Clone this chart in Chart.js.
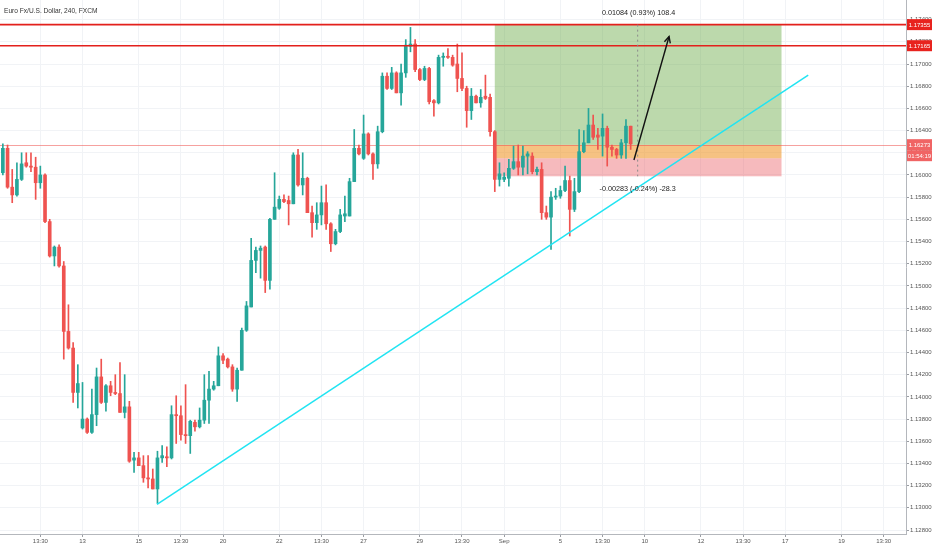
<!DOCTYPE html>
<html><head><meta charset="utf-8">
<script src="https://cdn.jsdelivr.net/npm/chart.js@4.4.0/dist/chart.umd.min.js"></script>
<style>html,body{margin:0;padding:0;background:#fff;overflow:hidden}#wrap{width:932px;height:550px;position:relative}</style>
</head><body><div id="wrap"><canvas id="c" width="932" height="550"></canvas></div>
<script>
// ---- data (4h EUR/USD candles, index 0 = Mon 13 Aug) ----
const firstIndex = -17;
const opens = [
1.1602,1.1624,1.1589,1.1582,1.1596,1.1611,1.1608,1.1607,1.1593,1.1600,1.1558,1.1527,1.1535,1.1518,1.1459,1.1444,1.1404,
1.1372,1.1380,1.1368,1.1384,1.1418,1.1395,1.1410,1.1404,1.1403,1.1386,
1.1391,1.1343,1.1345,1.1338,1.1327,1.1326,1.1317,1.1345,1.1346,1.1345,
1.1384,1.1383,1.1366,1.1365,1.1377,1.1373,1.1379,1.1397,1.1407,1.1410,
1.1437,1.1434,1.1427,1.1407,1.1424,1.1460,1.1481,1.1523,1.1532,1.1535,
1.1505,1.1560,1.1570,1.1578,1.1577,1.1574,1.1618,1.1591,1.1597,1.1566,
1.1557,1.1564,1.1575,1.1556,1.1538,1.1549,1.1563,1.1563,1.1594,1.1624,
1.1615,1.1637,1.1619,1.1610,1.1639,1.1689,1.1678,1.1692,1.1674,1.1692,
1.1716,1.1718,1.1695,1.1686,1.1696,1.1667,1.1665,1.1706,1.1707,1.1706,
1.1700,1.1687,1.1678,1.1658,1.1671,1.1665,1.1671,1.1670,1.1639,1.1596,
1.1596,1.1597,1.1606,1.1612,1.1607,1.1617,1.1617,1.1603,1.1605,1.1566,
1.1562,1.1580,1.1581,1.1586,1.1595,1.1569,1.1585,1.1621,1.1629,1.1645,
1.1636,1.1635,1.1642,1.1625,1.1623,1.1618,1.1629,1.1644];
const highs = [
1.1628,1.1627,1.1605,1.1611,1.1620,1.1620,1.1620,1.1616,1.1608,1.1601,1.1560,1.1536,1.1537,1.1522,1.1483,1.1449,1.1429,
1.1413,1.1381,1.1407,1.1426,1.1434,1.1411,1.1414,1.1420,1.1431,1.1420,
1.1396,1.1350,1.1350,1.1347,1.1347,1.1335,1.1351,1.1356,1.1355,1.1392,
1.1401,1.1392,1.1411,1.1379,1.1379,1.1390,1.1420,1.1423,1.1414,1.1445,
1.1439,1.1435,1.1429,1.1426,1.1462,1.1486,1.1543,1.1535,1.1536,1.1536,
1.1561,1.1602,1.1581,1.1582,1.1581,1.1620,1.1623,1.1620,1.1598,1.1572,
1.1575,1.1590,1.1591,1.1557,1.1551,1.1569,1.1581,1.1597,1.1641,1.1627,
1.1654,1.1638,1.1620,1.1644,1.1692,1.1692,1.1697,1.1693,1.1700,1.1722,
1.1733,1.1722,1.1696,1.1698,1.1697,1.1668,1.1708,1.1710,1.1714,1.1708,
1.1718,1.1710,1.1680,1.1678,1.1672,1.1677,1.1690,1.1673,1.1640,1.1611,
1.1602,1.1614,1.1626,1.1627,1.1626,1.1621,1.1620,1.1607,1.1611,1.1572,
1.1585,1.1588,1.1590,1.1608,1.1599,1.1597,1.1641,1.1640,1.1660,1.1654,
1.1642,1.1655,1.1644,1.1627,1.1624,1.1632,1.1650,1.1644];
const lows = [
1.1600,1.1588,1.1575,1.1581,1.1595,1.1607,1.1603,1.1578,1.1588,1.1557,1.1526,1.1518,1.1517,1.1434,1.1443,1.1395,1.1390,
1.1371,1.1367,1.1367,1.1374,1.1394,1.1387,1.1401,1.1402,1.1386,1.1381,
1.1341,1.1332,1.1338,1.1323,1.1318,1.1317,1.1304,1.1341,1.1337,1.1344,
1.1358,1.1361,1.1358,1.1349,1.1369,1.1372,1.1376,1.1376,1.1406,1.1410,
1.1430,1.1426,1.1405,1.1396,1.1424,1.1459,1.1481,1.1512,1.1507,1.1494,
1.1497,1.1560,1.1569,1.1575,1.1555,1.1574,1.1590,1.1582,1.1566,1.1544,
1.1551,1.1555,1.1551,1.1531,1.1537,1.1548,1.1558,1.1563,1.1594,1.1618,
1.1614,1.1618,1.1596,1.1606,1.1638,1.1677,1.1677,1.1674,1.1663,1.1688,
1.1711,1.1693,1.1685,1.1685,1.1664,1.1653,1.1664,1.1698,1.1705,1.1698,
1.1675,1.1676,1.1643,1.1650,1.1665,1.1661,1.1668,1.1635,1.1585,1.1590,
1.1594,1.1590,1.1605,1.1600,1.1600,1.1601,1.1601,1.1600,1.1560,1.1560,
1.1533,1.1578,1.1579,1.1585,1.1545,1.1567,1.1584,1.1620,1.1629,1.1632,
1.1623,1.1617,1.1608,1.1617,1.1615,1.1615,1.1615,1.1623];
const closes = [
1.1624,1.1589,1.1582,1.1596,1.1610,1.1608,1.1607,1.1593,1.1600,1.1558,1.1527,1.1535,1.1518,1.1459,1.1444,1.1404,1.1412,
1.1380,1.1368,1.1384,1.1418,1.1395,1.1410,1.1404,1.1403,1.1386,1.1391,
1.1342,1.1345,1.1338,1.1327,1.1326,1.1317,1.1345,1.1347,1.1345,1.1384,
1.1383,1.1366,1.1365,1.1378,1.1373,1.1379,1.1397,1.1407,1.1410,1.1437,
1.1433,1.1427,1.1407,1.1424,1.1460,1.1482,1.1523,1.1532,1.1534,1.1505,
1.1560,1.1571,1.1578,1.1576,1.1574,1.1618,1.1591,1.1597,1.1566,1.1557,
1.1564,1.1575,1.1556,1.1538,1.1549,1.1564,1.1565,1.1594,1.1624,1.1619,
1.1637,1.1619,1.1610,1.1639,1.1689,1.1678,1.1692,1.1674,1.1692,1.1717,
1.1718,1.1695,1.1686,1.1696,1.1666,1.1665,1.1706,1.1707,1.1706,1.1699,
1.1687,1.1678,1.1658,1.1671,1.1665,1.1670,1.1669,1.1639,1.1596,1.1601,
1.1598,1.1606,1.1612,1.1607,1.1617,1.1619,1.1603,1.1605,1.1566,1.1562,
1.1580,1.1581,1.1586,1.1595,1.1569,1.1585,1.1621,1.1629,1.1645,1.1634,
1.1634,1.1642,1.1625,1.1623,1.1618,1.1629,1.1644,1.1628];

const xTickIndex  = [-9,0,12,21,30,42,51,60,72,81,90,102,111,120,132,141,150,162,171];
const xTickLabels = ['13:30','13','15','13:30','20','22','13:30','27','29','13:30','Sep','5','13:30','10','12','13:30','17','19','13:30'];
const yTickValues = [1.128,1.130,1.132,1.134,1.136,1.138,1.140,1.142,1.144,1.146,1.148,1.150,1.152,1.154,1.156,1.158,1.160,1.162,1.164,1.166,1.168,1.170,1.172,1.174];

const xMin = -17.61, xMax = 175.77;
const yMin = 1.12764, yMax = 1.17577;

// drawings (data units)
const targetPrice = 1.17355;
const resistancePrice = 1.17165;
const lastPrice = 1.16273;
const entryPrice = 1.16271;
const fillPrice = 1.16150;
const stopPrice = 1.15988;
const boxStart = 88, boxEnd = 149.2;
const markerIndex = 118.5;
const trendX = [15.9, 154.9];
const trendY = [1.1303, 1.1690];
const arrowX = [117.7, 125.2];
const arrowY = [1.16135, 1.17248];
const targetText = '0.01084 (0.93%) 108.4';
const stopText = '-0.00283 (-0.24%) -28.3';
const titleText = 'Euro Fx/U.S. Dollar, 240, FXCM';
const timerText = '01:54:19';

const UP = '#26a69a', DOWN = '#ef5350';
const FONT = '"Liberation Sans", Arial, sans-serif';

const idx = opens.map((_, k) => firstIndex + k);
const colors = opens.map((o, k) => closes[k] >= o ? UP : DOWN);

const overlay = {
  id: 'overlay',
  beforeDatasetsDraw(chart) {
    const {ctx, chartArea: a} = chart, X = chart.scales.x, Y = chart.scales.y;
    ctx.save();
    ctx.beginPath(); ctx.rect(a.left, a.top, a.right - a.left, a.bottom - a.top); ctx.clip();
    const x0 = X.getPixelForValue(boxStart), x1 = X.getPixelForValue(boxEnd);
    const band = (p1, p2, c) => { const y1 = Y.getPixelForValue(p1), y2 = Y.getPixelForValue(p2); ctx.fillStyle = c; ctx.fillRect(x0, y1, x1 - x0, y2 - y1); };
    band(targetPrice, entryPrice, 'rgba(108,172,74,0.46)');
    band(entryPrice, fillPrice, 'rgba(240,150,40,0.58)');
    band(fillPrice, stopPrice, 'rgba(236,104,112,0.46)');
    const yl = Math.round(Y.getPixelForValue(lastPrice)) + 0.5;
    ctx.strokeStyle = 'rgba(239,83,80,0.55)'; ctx.lineWidth = 1;
    ctx.beginPath(); ctx.moveTo(a.left, yl); ctx.lineTo(a.right, yl); ctx.stroke();
    ctx.restore();
  },
  afterDatasetsDraw(chart) {
    const {ctx, chartArea: a} = chart, X = chart.scales.x, Y = chart.scales.y;
    ctx.save();
    ctx.beginPath(); ctx.rect(a.left, a.top, a.right - a.left, a.bottom - a.top); ctx.clip();
    ctx.strokeStyle = '#e3201c'; ctx.lineWidth = 1.6;
    [targetPrice, resistancePrice].forEach(p => { const y = Y.getPixelForValue(p); ctx.beginPath(); ctx.moveTo(a.left, y); ctx.lineTo(a.right, y); ctx.stroke(); });
    const xm = X.getPixelForValue(markerIndex);
    ctx.strokeStyle = '#8a8a8a'; ctx.lineWidth = 1; ctx.setLineDash([2, 3]);
    ctx.beginPath(); ctx.moveTo(xm, Y.getPixelForValue(targetPrice)); ctx.lineTo(xm, Y.getPixelForValue(stopPrice)); ctx.stroke();
    ctx.setLineDash([]);
    const ax0 = X.getPixelForValue(arrowX[0]), ay0 = Y.getPixelForValue(arrowY[0]);
    const ax1 = X.getPixelForValue(arrowX[1]), ay1 = Y.getPixelForValue(arrowY[1]);
    ctx.strokeStyle = '#111'; ctx.lineWidth = 1.4;
    ctx.beginPath(); ctx.moveTo(ax0, ay0); ctx.lineTo(ax1, ay1); ctx.stroke();
    const ang = Math.atan2(ay1 - ay0, ax1 - ax0), L = 7;
    ctx.beginPath();
    ctx.moveTo(ax1 - L * Math.cos(ang - 0.45), ay1 - L * Math.sin(ang - 0.45));
    ctx.lineTo(ax1, ay1);
    ctx.lineTo(ax1 - L * Math.cos(ang + 0.45), ay1 - L * Math.sin(ang + 0.45));
    ctx.stroke();
    ctx.restore();
    ctx.save();
    ctx.fillStyle = '#222'; ctx.font = '7.2px ' + FONT; ctx.textAlign = 'center'; ctx.textBaseline = 'middle';
    ctx.fillText(targetText, xm + 1, Y.getPixelForValue(targetPrice) - 12);
    ctx.fillText(stopText, xm, Y.getPixelForValue(stopPrice) + 12.5);
    ctx.restore();
  },
  afterDraw(chart) {
    const {ctx, chartArea: a} = chart, Y = chart.scales.y;
    const W = chart.width;
    ctx.save();
    ctx.font = '6px ' + FONT; ctx.textAlign = 'center'; ctx.textBaseline = 'middle';
    const tag = (yc, txt, bg) => { ctx.fillStyle = bg; ctx.fillRect(a.right + 1, yc - 5.5, W - a.right - 1, 11); ctx.fillStyle = '#fff'; ctx.fillText(txt, (a.right + 1 + W) / 2, yc + 0.5); };
    tag(Y.getPixelForValue(targetPrice), targetPrice.toFixed(5), '#e8231e');
    tag(Y.getPixelForValue(resistancePrice), resistancePrice.toFixed(5), '#e8231e');
    const yl = Y.getPixelForValue(lastPrice);
    tag(yl, lastPrice.toFixed(5), '#f06464');
    tag(yl + 11, timerText, '#f06464');
    ctx.textAlign = 'left'; ctx.fillStyle = '#333'; ctx.font = '6.6px ' + FONT;
    ctx.fillText(titleText, 4, 11);
    ctx.restore();
  }
};

new Chart(document.getElementById('c'), {
  type: 'bar',
  data: {
    datasets: [
      { type: 'line', data: trendX.map((x, k) => ({x, y: trendY[k]})), borderColor: '#21e4f2', borderWidth: 1.5, pointRadius: 0, order: 0, clip: 0 },
      { data: idx.map((x, k) => ({x, y: [opens[k], closes[k]]})), backgroundColor: colors, barThickness: 3, minBarLength: 1, grouped: false, borderWidth: 0, order: 1 },
      { data: idx.map((x, k) => ({x, y: [lows[k], highs[k]]})), backgroundColor: colors, barThickness: 1, grouped: false, borderWidth: 0, order: 2 }
    ]
  },
  options: {
    responsive: false, animation: false, devicePixelRatio: 1,
    layout: { padding: 0 },
    plugins: { legend: { display: false }, tooltip: { enabled: false }, title: { display: false } },
    scales: {
      x: {
        type: 'linear', min: xMin, max: xMax, offset: false,
        grid: { color: '#f1f3f6', offset: false, tickLength: 3, tickColor: '#9a9da3' },
        border: { color: '#b4b7bc' },
        ticks: { autoSkip: false, maxRotation: 0, padding: 1, color: '#555', font: { size: 6, family: FONT }, callback: (v, i) => xTickLabels[i] },
        afterBuildTicks: s => { s.ticks = xTickIndex.map(v => ({value: v})); },
        afterFit: s => { s.height = 16; s.paddingLeft = 0; s.paddingRight = 0; }
      },
      y: {
        type: 'linear', position: 'right', min: yMin, max: yMax,
        grid: { color: '#f1f3f6', tickLength: 3, tickColor: '#9a9da3' },
        border: { color: '#b4b7bc' },
        ticks: { padding: 1, color: '#555', font: { size: 6, family: FONT }, callback: v => Number(v).toFixed(5) },
        afterBuildTicks: s => { s.ticks = yTickValues.map(v => ({value: v})); },
        afterFit: s => { s.width = 26; s.paddingTop = 0; s.paddingBottom = 0; }
      }
    }
  },
  plugins: [overlay]
});
</script></body></html>
